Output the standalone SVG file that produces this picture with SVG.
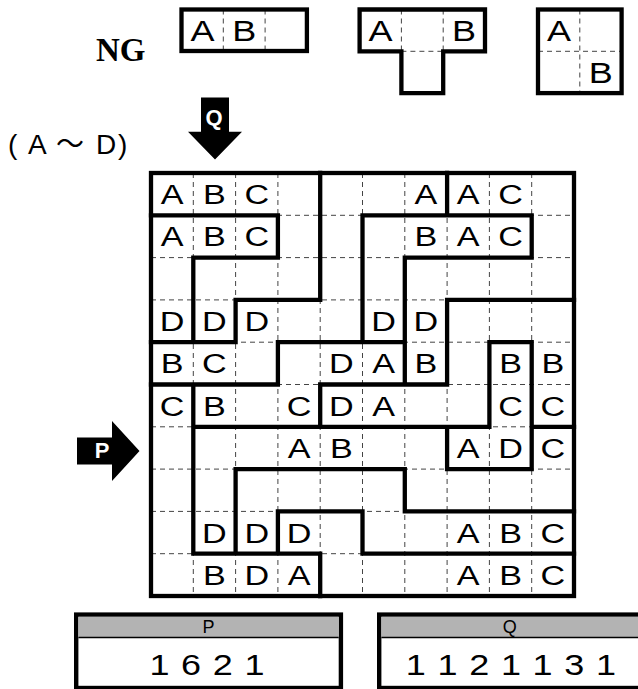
<svg xmlns="http://www.w3.org/2000/svg" width="638" height="689" viewBox="0 0 638 689">
<defs>
<style>
.thick{fill:none;stroke:#000;stroke-width:4.3;stroke-linecap:square;stroke-linejoin:miter}
.dash{fill:none;stroke:#444;stroke-width:1;stroke-dasharray:5 4}
.let{font-family:"Liberation Sans",Arial,sans-serif;font-size:28px;text-anchor:middle;fill:#000}
.ngl{font-family:"Liberation Sans",Arial,sans-serif;font-size:30px;text-anchor:middle;fill:#000}
.arrowtxt{font-family:"Liberation Sans",Arial,sans-serif;font-weight:bold;font-size:22px;text-anchor:middle;fill:#fff}
.hdr{font-family:"Liberation Sans",Arial,sans-serif;font-size:18px;text-anchor:middle;fill:#000}
.num{font-family:"Liberation Sans",Arial,sans-serif;font-size:30px;text-anchor:middle;fill:#000;letter-spacing:0.7px}
</style>
</defs>
<rect width="638" height="689" fill="#fff"/>

<g id="ng-label">
<text x="96" y="61" font-family="Liberation Serif,'Times New Roman',serif" font-weight="bold" font-size="33">NG</text>
</g>

<g id="ng-shapes">
<path class="dash" d="M223.3 9.5V51 M265.1 9.5V51 M401.4 9.5V93 M443.2 9.5V93 M401.4 51.3H443.2 M579.8 9.5V93.1 M538 51.3H621.6"/>
<rect class="thick" x="181.5" y="9.5" width="125.4" height="41.5"/>
<path class="thick" d="M359.6 9.5H485V51.3H443.2V93.1H401.4V51.3H359.6Z"/>
<rect class="thick" x="538" y="9.5" width="83.6" height="83.6"/>
<g transform="scale(1.2,1)">
<text class="ngl" x="168.7" y="41">A</text>
<text class="ngl" x="203.5" y="41">B</text>
<text class="ngl" x="317.1" y="41">A</text>
<text class="ngl" x="386.7" y="41">B</text>
<text class="ngl" x="465.8" y="41">A</text>
<text class="ngl" x="500.6" y="83">B</text>
</g>
</g>

<g id="range-label">
<text x="8 28 56 96 118" y="153.5" font-family="Liberation Sans,'Noto Sans CJK JP',sans-serif" font-size="28">(A～D)</text>
</g>

<g id="arrow-q">
<polygon points="201,97.5 229,97.5 229,131.7 242,131.7 215,159.5 188,131.7 201,131.7" fill="#000"/>
<text class="arrowtxt" x="214" y="125">Q</text>
</g>

<g id="arrow-p">
<polygon points="77,437.5 112,437.5 112,421 139.5,451 112,481 112,464.5 77,464.5" fill="#000"/>
<text class="arrowtxt" x="102" y="458">P</text>
</g>

<g id="grid">
<path class="dash" d="M193.3 173V596 M235.6 173V596 M277.9 173V596 M320.2 173V596 M362.5 173V596 M404.8 173V596 M447.1 173V596 M489.4 173V596 M531.7 173V596 M151 215.3H574 M151 257.6H574 M151 299.9H574 M151 342.2H574 M151 384.5H574 M151 426.8H574 M151 469.1H574 M151 511.4H574 M151 553.7H574"/>
<path class="thick" d="M151 215.3H277.9 M362.5 215.3H531.7 M193.3 257.6H277.9 M404.8 257.6H531.7 M235.6 299.9H320.2 M447.1 299.9H574 M151 342.2H235.6 M277.9 342.2H404.8 M489.4 342.2H531.7 M151 384.5H277.9 M320.2 384.5H447.1 M193.3 426.8H489.4 M531.7 426.8H574 M235.6 469.1H404.8 M447.1 469.1H531.7 M277.9 511.4H362.5 M404.8 511.4H574 M193.3 553.7H320.2 M362.5 553.7H574 M193.3 257.6V342.2 M193.3 384.5V553.7 M235.6 299.9V342.2 M235.6 469.1V553.7 M277.9 215.3V257.6 M277.9 342.2V384.5 M277.9 511.4V553.7 M320.2 173V299.9 M320.2 384.5V426.8 M320.2 553.7V596 M362.5 215.3V342.2 M362.5 511.4V553.7 M404.8 257.6V384.5 M404.8 469.1V511.4 M447.1 173V215.3 M447.1 299.9V384.5 M447.1 426.8V469.1 M489.4 342.2V426.8 M531.7 215.3V257.6 M531.7 342.2V469.1"/>
<rect class="thick" x="151" y="173" width="423" height="423"/>
<g transform="scale(1.22,1)">
<text class="let" x="141.11" y="204.15">A</text><text class="let" x="175.78" y="204.15">B</text><text class="let" x="210.45" y="204.15">C</text><text class="let" x="349.14" y="204.15">A</text><text class="let" x="383.81" y="204.15">A</text><text class="let" x="418.48" y="204.15">C</text>
<text class="let" x="141.11" y="246.45">A</text><text class="let" x="175.78" y="246.45">B</text><text class="let" x="210.45" y="246.45">C</text><text class="let" x="349.14" y="246.45">B</text><text class="let" x="383.81" y="246.45">A</text><text class="let" x="418.48" y="246.45">C</text>
<text class="let" x="141.11" y="331.05">D</text><text class="let" x="175.78" y="331.05">D</text><text class="let" x="210.45" y="331.05">D</text><text class="let" x="314.47" y="331.05">D</text><text class="let" x="349.14" y="331.05">D</text>
<text class="let" x="141.11" y="373.35">B</text><text class="let" x="175.78" y="373.35">C</text><text class="let" x="279.8" y="373.35">D</text><text class="let" x="314.47" y="373.35">A</text><text class="let" x="349.14" y="373.35">B</text><text class="let" x="418.48" y="373.35">B</text><text class="let" x="453.16" y="373.35">B</text>
<text class="let" x="141.11" y="415.65">C</text><text class="let" x="175.78" y="415.65">B</text><text class="let" x="245.12" y="415.65">C</text><text class="let" x="279.8" y="415.65">D</text><text class="let" x="314.47" y="415.65">A</text><text class="let" x="418.48" y="415.65">C</text><text class="let" x="453.16" y="415.65">C</text>
<text class="let" x="245.12" y="457.95">A</text><text class="let" x="279.8" y="457.95">B</text><text class="let" x="383.81" y="457.95">A</text><text class="let" x="418.48" y="457.95">D</text><text class="let" x="453.16" y="457.95">C</text>
<text class="let" x="175.78" y="542.55">D</text><text class="let" x="210.45" y="542.55">D</text><text class="let" x="245.12" y="542.55">D</text><text class="let" x="383.81" y="542.55">A</text><text class="let" x="418.48" y="542.55">B</text><text class="let" x="453.16" y="542.55">C</text>
<text class="let" x="175.78" y="584.85">B</text><text class="let" x="210.45" y="584.85">D</text><text class="let" x="245.12" y="584.85">A</text><text class="let" x="383.81" y="584.85">A</text><text class="let" x="418.48" y="584.85">B</text><text class="let" x="453.16" y="584.85">C</text>
</g>
</g>

<g id="table-p">
<rect x="76.2" y="614.6" width="264.7" height="73.4" fill="#fff" stroke="#000" stroke-width="4.4"/>
<rect x="78.4" y="616.8" width="260.3" height="20.4" fill="#b3b3b3"/>
<line x1="78.4" y1="637.5" x2="338.7" y2="637.5" stroke="#000" stroke-width="1.5"/>
<text class="hdr" x="208.5" y="632.5">P</text>
<g transform="scale(1.2,1)"><text class="num" x="172.8" y="675">1 6 2 1</text></g>
</g>

<g id="table-q">
<rect x="379.2" y="614.6" width="261" height="73.4" fill="#fff" stroke="#000" stroke-width="4.4"/>
<rect x="381.4" y="616.8" width="258" height="20.4" fill="#b3b3b3"/>
<line x1="381.4" y1="637.5" x2="640" y2="637.5" stroke="#000" stroke-width="1.5"/>
<text class="hdr" x="509.7" y="632.5">Q</text>
<g transform="scale(1.2,1)"><text class="num" x="426.1" y="675">1 1 2 1 1 3 1</text></g>
</g>
</svg>
